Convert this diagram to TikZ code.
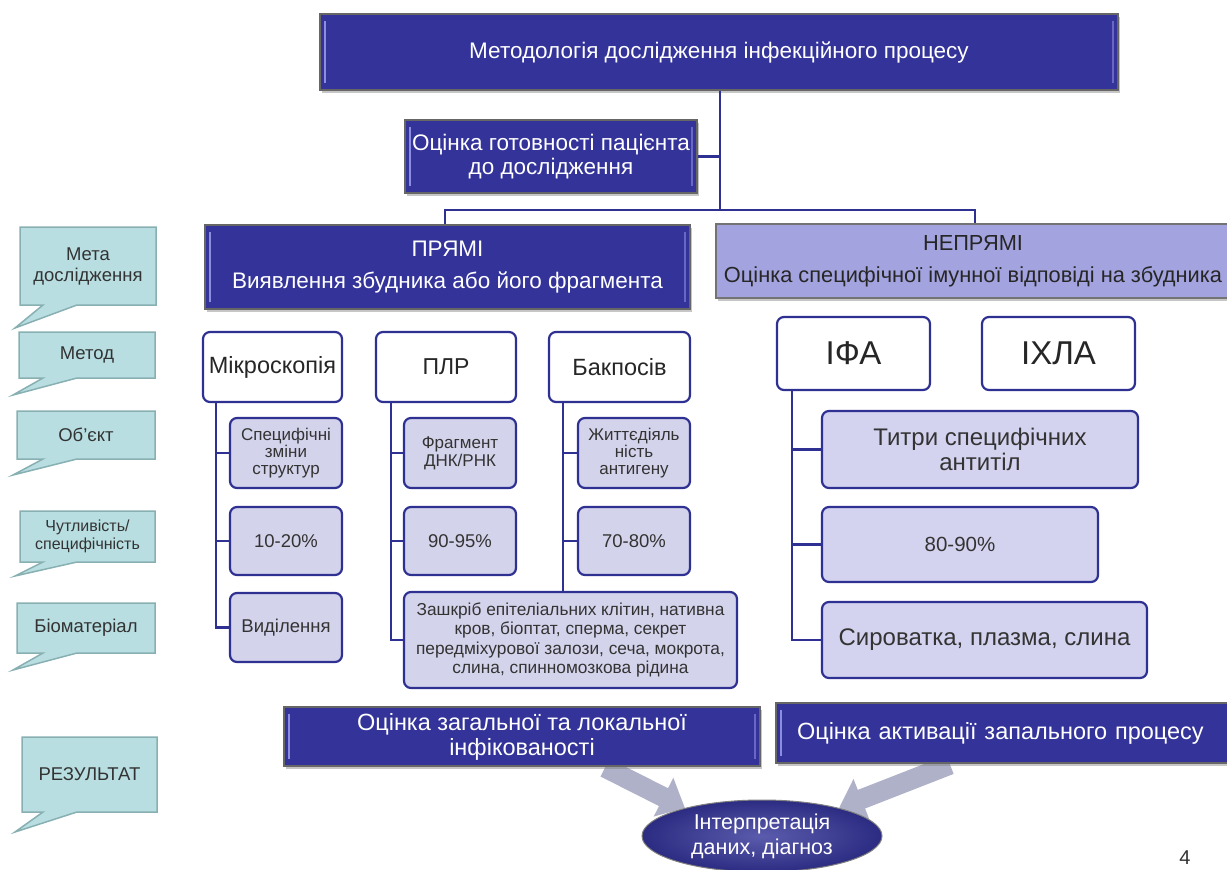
\documentclass[tikz,border=0pt]{standalone}
\usepackage{fontspec}
\setmainfont{Liberation Sans}
\usetikzlibrary{shapes.geometric,arrows.meta,shadows}
\pgfdeclarelayer{bg}
\pgfsetlayers{bg,main}
\definecolor{navy}{HTML}{333399}
\definecolor{navyline}{HTML}{2E3192}
\definecolor{lav}{HTML}{A3A3DF}
\definecolor{sub}{HTML}{D3D3EC}
\definecolor{subr}{HTML}{D3D3F0}
\definecolor{teal}{HTML}{B8DEE1}
\definecolor{tealb}{HTML}{88B0B3}
\definecolor{arrowgray}{HTML}{AFB1C9}
\definecolor{bevel}{HTML}{8C8CE0}
\tikzset{
  bevelpic/.style={path picture={
     \draw[bevel, line width=2pt] ([xshift=5pt,yshift=-7pt]path picture bounding box.north west) -- ([xshift=5pt,yshift=7pt]path picture bounding box.south west);
     \draw[bevel!60!navy, line width=1.5pt] ([xshift=-5pt,yshift=-7pt]path picture bounding box.north east) -- ([xshift=-5pt,yshift=7pt]path picture bounding box.south east);}},
  darkbox/.style={draw=black!60, line width=1.2pt, fill=navy, text=white, align=center, inner sep=2pt, bevelpic,
    drop shadow={shadow xshift=2pt, shadow yshift=-3pt, opacity=0.45}},
  lavbox/.style={draw=black!55, line width=1.2pt, fill=lav, text=black!85, align=center, inner sep=2pt,
    drop shadow={shadow xshift=2pt, shadow yshift=-3pt, opacity=0.45}},
  methbox/.style={draw=navyline, line width=2.2pt, fill=white, rounded corners=7pt, text=black!85, align=center, inner sep=2pt},
  subbox/.style={draw=navyline, line width=2.2pt, fill=sub, rounded corners=7pt, text=black!80, align=center, inner sep=2pt},
  subrbox/.style={draw=navyline, line width=2.2pt, fill=subr, rounded corners=7pt, text=black!80, align=center, inner sep=2pt},
  conn/.style={draw=navyline, line width=2.2pt},
  callout/.style={draw=tealb, line width=1.5pt, fill=teal},
  calltext/.style={text=black!80, align=center, inner sep=0pt},
  blockarrow/.style={line width=20pt, color=arrowgray, -{Triangle[length=24pt,width=42pt]}},
}
\newcommand{\fs}[2]{\fontsize{#1pt}{#2pt}\selectfont}
\newcommand{\mycallout}[8]{%
  \path[callout] (#1,#2) -- (#3,#2) -- (#3,#4) -- (77,#4) -- (#5,#6) -- (43,#4) -- (#1,#4) -- cycle;
  \node[calltext, font=#8] (#7) at ({(#1+#3)/2},{(#2+#4)/2})}
\begin{document}
\begin{tikzpicture}[x=1pt,y=-1pt]
\clip (0,0) rectangle (1227,870);

\node[darkbox, minimum width=798pt, minimum height=76pt, font=\fs{22.5}{25}] (title) at (719,52) {Методологія дослідження інфекційного процесу};
\coordinate (hub) at (720,210);
\node[darkbox, minimum width=292pt, minimum height=73pt, font=\fs{22.5}{23.5}] (ready) at (551,156.5) {Оцінка готовності пацієнта\\до дослідження};
\node[darkbox, minimum width=485pt, minimum height=84pt, font=\fs{22.5}{27}] (pryami) at (447.5,267) {ПРЯМІ\\[5pt]Виявлення збудника або його фрагмента};
\node[lavbox, minimum width=514pt, minimum height=74pt, font=\fs{21.8}{27}] (nepryami) at (973,261) {НЕПРЯМІ\\[5pt]Оцінка специфічної імунної відповіді на збудника};

\draw[conn] (title.south -| hub) -- (hub);
\draw[conn] (ready.east) -- (ready.east -| hub);
\draw[conn] ([xshift=-2.5pt]pryami.north) |- (hub) -| ([xshift=2pt]nepryami.north);

% methods
\node[methbox, minimum width=139pt, minimum height=70pt, font=\fs{23.5}{26}] (micro) at (272.5,367) {Мікроскопія};
\node[methbox, minimum width=140pt, minimum height=70pt, font=\fs{23}{26}] (plr) at (446,367) {ПЛР};
\node[methbox, minimum width=141pt, minimum height=70pt, font=\fs{23.5}{26}] (bak) at (619.5,367) {Бакпосів};

\node[subbox, minimum width=112pt, minimum height=70pt, font=\fs{17}{17}] (spec) at (286,453) {Специфічні\\зміни\\структур};
\node[subbox, minimum width=112pt, minimum height=68pt, font=\fs{18.5}{20}] (p1020) at (286,541) {10-20\%};
\node[subbox, minimum width=112pt, minimum height=69pt, font=\fs{18.5}{20}] (vyd) at (286,627.5) {Виділення};

\node[subbox, minimum width=112pt, minimum height=70pt, font=\fs{17}{18}] (frag) at (460,453) {Фрагмент\\ДНК/РНК};
\node[subbox, minimum width=112pt, minimum height=68pt, font=\fs{18.5}{20}] (p9095) at (460,541) {90-95\%};

\node[subbox, minimum width=112pt, minimum height=70pt, font=\fs{17}{17}] (zhyt) at (634,453) {Життєдіяль\\ність\\антигену};
\node[subbox, minimum width=112pt, minimum height=68pt, font=\fs{18.5}{20}] (p7080) at (634,541) {70-80\%};

\node[subbox, minimum width=333pt, minimum height=96pt, font=\fs{17.3}{19.5}] (zashk) at (570.5,640) {Зашкріб епітеліальних клітин, нативна\\кров, біоптат, сперма, секрет\\передміхурової залози, сеча, мокрота,\\слина, спинномозкова рідина};

\draw[conn] ([xshift=14pt]micro.south west) |- (vyd.west);
\draw[conn] ([xshift=14pt]micro.south west) |- (spec.west);
\draw[conn] ([xshift=14pt]micro.south west) |- (p1020.west);

\draw[conn] ([xshift=16pt]plr.south west) |- (zashk.west);
\draw[conn] ([xshift=16pt]plr.south west) |- (frag.west);
\draw[conn] ([xshift=16pt]plr.south west) |- (p9095.west);

\draw[conn] ([xshift=15pt]bak.south west) -- ([xshift=15pt]bak.south west |- zashk.north);
\draw[conn] ([xshift=15pt]bak.south west) |- (zhyt.west);
\draw[conn] ([xshift=15pt]bak.south west) |- (p7080.west);

% right side
\node[methbox, minimum width=153pt, minimum height=73pt, font=\fs{33}{36}] (ifa) at (853.5,353.5) {ІФА};
\node[methbox, minimum width=153pt, minimum height=73pt, font=\fs{33}{36}] (ihla) at (1058.5,353.5) {ІХЛА};
\node[subrbox, minimum width=316pt, minimum height=77pt, font=\fs{24}{25}] (tytry) at (980,449.5) {Титри специфічних\\антитіл};
\node[subrbox, minimum width=276pt, minimum height=75pt, font=\fs{20.5}{22}] (p8090) at (960,544.5) {80-90\%};
\node[subrbox, minimum width=325pt, minimum height=76pt, font=\fs{24}{26}] (syr) at (984.5,640) {Сироватка, плазма, слина};

\draw[conn] ([xshift=16pt]ifa.south west) |- (syr.west);
\draw[conn] ([xshift=16pt]ifa.south west) |- (tytry.west);
\draw[conn] ([xshift=16pt]ifa.south west) |- (p8090.west);

% results
\node[darkbox, minimum width=476pt, minimum height=59pt, font=\fs{23.5}{25}] (res1) at (522,736.5) {Оцінка загальної та локальної\\інфікованості};
\node[darkbox, minimum width=464pt, minimum height=60pt, font=\fs{23.5}{25}, text width=422pt, align=left] (res2) at (1008,733) {Оцінка активації запального процесу};
\node[ellipse, draw=black!50, line width=1pt, inner color=navy!80!white, outer color=navy!85!black, minimum width=240pt, minimum height=72pt, inner sep=0pt, text=white, align=center, font=\fs{21.5}{25}] (interp) at (762,836) {Інтерпретація\\даних, діагноз};

\begin{pgfonlayer}{bg}
\draw[blockarrow] ([xshift=83pt,yshift=-1pt]res1.south) -- (interp.160);
\draw[blockarrow] ([xshift=-58pt,yshift=-1pt]res2.south) -- (interp.20);
\end{pgfonlayer}

\node[font=\fs{20}{22}, text=black!80] (pagenum) at (1185,858) {4};

% callouts
\mycallout{20}{227}{156}{305}{15}{328}{mcall}{\fs{18.5}{21}}{Мета\\дослідження};
\mycallout{19}{332}{155}{378}{13}{395}{mmethod}{\fs{18.5}{21}}{Метод};
\mycallout{17}{411}{155}{459}{13}{475}{mobj}{\fs{18.5}{21}}{Об’єкт};
\mycallout{20}{511}{155}{562}{15}{576}{msens}{\fs{16}{18}}{Чутливість/\\специфічність};
\mycallout{17}{603}{155}{653}{13}{670}{mbio}{\fs{18.5}{21}}{Біоматеріал};
\mycallout{22}{737}{157}{812}{15}{832}{mres}{\fs{18.5}{21}}{РЕЗУЛЬТАТ};
\end{tikzpicture}
\end{document}
